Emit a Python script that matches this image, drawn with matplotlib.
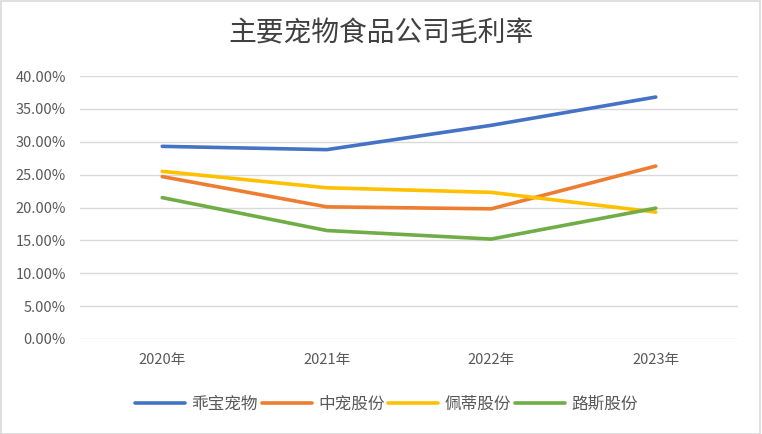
import matplotlib
matplotlib.use("Agg")
import matplotlib.pyplot as plt
from matplotlib.ticker import FuncFormatter, MultipleLocator
from matplotlib.patches import Rectangle

plt.rcParams['font.family'] = ['Noto Sans CJK SC', 'DejaVu Sans']

years = ["2020年", "2021年", "2022年", "2023年"]
series_names = ["乖宝宠物", "中宠股份", "佩蒂股份", "路斯股份"]
guaibao = [29.3, 28.8, 32.5, 36.8]
zhongchong = [24.7, 20.1, 19.8, 26.3]
peidi = [25.5, 23.0, 22.3, 19.3]
lusi = [21.5, 16.5, 15.2, 19.9]
series_values = [guaibao, zhongchong, peidi, lusi]
colors = ["#4472C4", "#ED7D31", "#FFC000", "#70AD47"]

fig = plt.figure(figsize=(7.62, 4.34), dpi=100)
fig.patches.append(Rectangle((0.001, 0.001), 0.997, 0.997, transform=fig.transFigure,
                             fill=False, edgecolor="#D9D9D9", linewidth=1.2))
ax = fig.add_axes([80/762, 1-339/434, (738-80)/762, (339-76)/434])

x = list(range(len(years)))
for name, vals, c in zip(series_names, series_values, colors):
    ax.plot(x, vals, color=c, linewidth=2.6, label=name, solid_capstyle='round')

ax.set_xlim(-0.5, len(years)-0.5)
ax.set_ylim(0, 40)
ax.yaxis.set_major_locator(MultipleLocator(5))
ax.yaxis.set_major_formatter(FuncFormatter(lambda v, p: f"{v:.2f}%"))
ax.set_xticks(x)
ax.set_xticklabels(years)
ax.grid(axis='y', color="#D9D9D9", linewidth=1)
ax.set_axisbelow(True)
for s in ax.spines.values():
    s.set_visible(False)
ax.tick_params(axis='both', length=0, labelsize=10.5, labelcolor="#595959")
ax.tick_params(axis='x', pad=10)
ax.tick_params(axis='y', pad=10)

fig.text(0.5, 1-33/434, "主要宠物食品公司毛利率", ha='center', va='center',
         fontsize=20, color="#404040")

leg = fig.legend(loc='center', bbox_to_anchor=(0.507, 1-404/434), ncol=4, frameon=False,
                 fontsize=12, handlelength=3.0, handletextpad=0.4, columnspacing=0.2)
for t in leg.get_texts():
    t.set_color("#595959")

fig.savefig("out.png", dpi=100)
